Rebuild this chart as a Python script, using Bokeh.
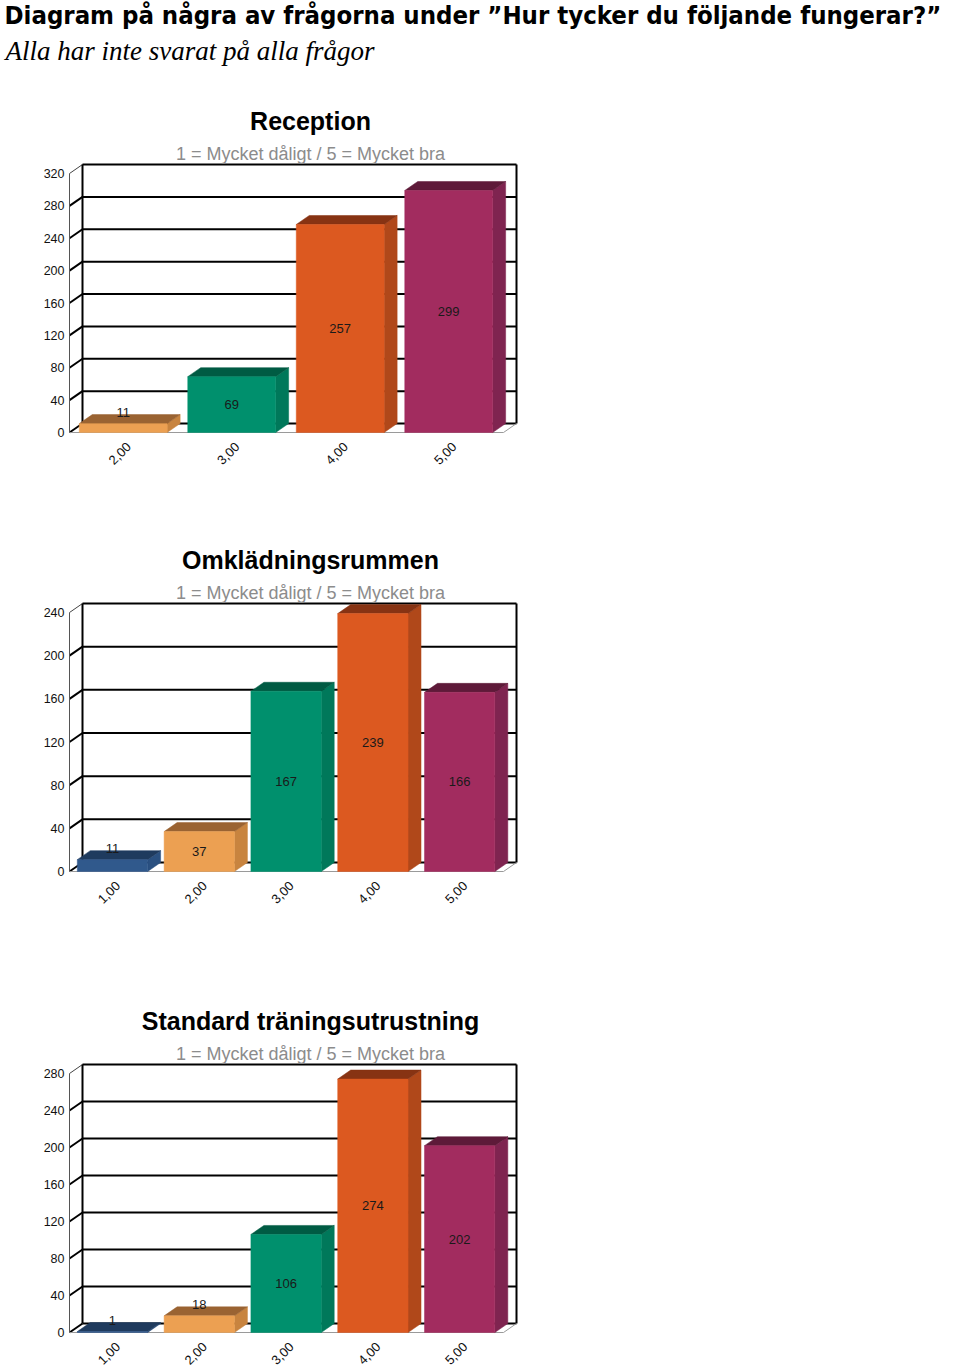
import math
from bokeh.plotting import figure
from bokeh.models import Range1d, FixedTicker, LinearAxis
from bokeh.layouts import column
from bokeh.embed import file_html
from bokeh.resources import INLINE
from bokeh.core.properties import value

# ---------------- data ----------------
main_title = "Diagram på några av frågorna under ”Hur tycker du följande fungerar?”"
main_subtitle = "Alla har inte svarat på alla frågor"
chart_subtitle = "1 = Mycket dåligt / 5 = Mycket bra"

rec_title = "Reception"
rec_grades = [2, 3, 4, 5]
rec_labels = ["2,00", "3,00", "4,00", "5,00"]
rec_values = [11, 69, 257, 299]
rec_tick_max = 320

omk_title = "Omklädningsrummen"
omk_grades = [1, 2, 3, 4, 5]
omk_labels = ["1,00", "2,00", "3,00", "4,00", "5,00"]
omk_values = [11, 37, 167, 239, 166]
omk_tick_max = 240

std_title = "Standard träningsutrustning"
std_grades = [1, 2, 3, 4, 5]
std_labels = ["1,00", "2,00", "3,00", "4,00", "5,00"]
std_values = [1, 18, 106, 274, 202]
std_tick_max = 280

tick_step = 40

# ---------------- styles ----------------
FRONT = {1: "#30598c", 2: "#eca052", 3: "#00906d", 4: "#dc5920", 5: "#a22c5f"}
TOP = {1: "#1f3b5e", 2: "#9a6332", 3: "#005b43", 4: "#873313", 5: "#5e1a39"}
SIDE = {1: "#2a5080", 2: "#c8843f", 3: "#00785a", 4: "#b0481a", 5: "#7f2450"}

SANS = "Liberation Sans"
HEAD_FONT = "DejaVu Sans Condensed, Liberation Sans Narrow, sans-serif"
FRONT_W = 434      # px width of the front floor edge
DX, DY = 13, 9     # px depth offset
WALL_H = 268       # px from front floor to top of back wall
LEFT = 69          # px from figure left to the front axis
FIG_W = 960
BAR_GAP = 0.09
BAR_W = 0.81


def build(title, grades, labels, vals, T, fig_top, floor, fig_bottom, header=False):
    n = len(grades)
    c = FRONT_W / n
    k = (WALL_H - DY) / T
    dxu, dyu = DX / c, DY / k
    top = T + dyu

    def px_x(px):
        return (px - LEFT) / c

    def px_y(py):
        return (floor - py) / k

    H = fig_bottom - fig_top
    p = figure(width=FIG_W, height=H,
               x_range=Range1d(px_x(0), px_x(FIG_W)),
               y_range=Range1d(px_y(fig_bottom), px_y(fig_top)),
               min_border=0, min_border_left=0, min_border_right=0,
               min_border_top=0, min_border_bottom=0,
               output_backend="svg", toolbar_location=None,
               x_axis_location=None, y_axis_location=None)
    p.outline_line_color = None
    p.background_fill_color = "white"
    p.border_fill_color = "white"
    p.xgrid.visible = False
    p.ygrid.visible = False

    ticks = list(range(0, T + 1, tick_step))

    # back wall
    p.quad(left=[dxu], right=[n + dxu], bottom=[dyu], top=[top],
           fill_color="white", line_color=None)
    gl = ticks[:-1]
    p.segment(x0=[0] * len(gl), y0=gl, x1=[dxu] * len(gl), y1=[t + dyu for t in gl],
              line_color="black", line_width=2)
    p.segment(x0=[dxu] * len(gl), y0=[t + dyu for t in gl], x1=[n + dxu] * len(gl),
              y1=[t + dyu for t in gl], line_color="black", line_width=2)
    p.segment(x0=[0], y0=[T], x1=[dxu], y1=[top], line_color="#444444", line_width=1)
    p.segment(x0=[dxu, dxu, n + dxu], y0=[dyu, top, dyu],
              x1=[dxu, n + dxu, n + dxu], y1=[top, top, top],
              line_color="black", line_width=2)
    p.segment(x0=[0, n], y0=[0, 0], x1=[n, n + dxu], y1=[0, dyu],
              line_color="#9a9a9a", line_width=1)

    # bars (front, top, side faces)
    fx, fy, tx, ty, sx, sy = [], [], [], [], [], []
    fc, tc, sc = [], [], []
    for i, (g, v) in enumerate(zip(grades, vals)):
        x0 = i + BAR_GAP
        x1 = x0 + BAR_W
        fx.append([x0, x1, x1, x0]); fy.append([0, 0, v, v])
        tx.append([x0, x1, x1 + dxu, x0 + dxu]); ty.append([v, v, v + dyu, v + dyu])
        sx.append([x1, x1 + dxu, x1 + dxu, x1]); sy.append([0, dyu, v + dyu, v])
        fc.append(FRONT[g]); tc.append(TOP[g]); sc.append(SIDE[g])
    p.patches(xs=sx, ys=sy, fill_color=sc, line_color=sc, line_width=0.5)
    p.patches(xs=tx, ys=ty, fill_color=tc, line_color=tc, line_width=0.5)
    p.patches(xs=fx, ys=fy, fill_color=fc, line_color=fc, line_width=0.5)

    # value labels
    lx = [i + BAR_GAP + BAR_W / 2 for i in range(n)]
    ly = [v / 2 if v * k >= 24 else v + 11.5 / k for v in vals]
    p.text(x=lx, y=ly, text=[str(v) for v in vals], text_align="center",
           text_baseline="middle", text_font=value(SANS), text_font_size="13px",
           text_color="#1a1a1a")

    # y axis at the front-left edge
    yax = LinearAxis(fixed_location=0, ticker=FixedTicker(ticks=ticks), bounds=(0, T))
    yax.major_tick_out = 0
    yax.major_tick_in = 0
    yax.minor_tick_out = 0
    yax.minor_tick_in = 0
    yax.axis_line_color = "#555555"
    yax.axis_line_width = 1
    yax.major_label_standoff = 5
    yax.major_label_text_font = SANS
    yax.major_label_text_font_size = "12.5px"
    yax.major_label_text_color = "#111111"
    p.add_layout(yax, "left")

    # category axis along the front floor edge
    shift = 5 / c
    xt = [i + 0.5 + shift for i in range(n)]
    xax = LinearAxis(fixed_location=0, ticker=FixedTicker(ticks=xt),
                     major_label_overrides={t: lab for t, lab in zip(xt, labels)})
    xax.axis_line_color = None
    xax.major_tick_out = 0
    xax.major_tick_in = 0
    xax.minor_tick_out = 0
    xax.minor_tick_in = 0
    xax.major_label_orientation = math.pi / 4
    xax.major_label_standoff = 12
    xax.major_label_text_font = SANS
    xax.major_label_text_font_size = "13px"
    xax.major_label_text_color = "#111111"
    p.add_layout(xax, "below")

    # chart titles
    cx = px_x(310)
    p.text(x=[cx], y=[top + 44 / k], text=[title], text_align="center",
           text_baseline="middle", text_font=value(SANS),
           text_font_style="bold", text_font_size="25px", text_color="black")
    p.text(x=[cx], y=[top + 11 / k], text=[chart_subtitle], text_align="center",
           text_baseline="middle", text_font=value(SANS),
           text_font_size="18px", text_color="#8c8c8c")
    if header:
        p.text(x=[px_x(4)], y=[px_y(14)], text=[main_title], text_align="left",
               text_baseline="middle", text_font=value(HEAD_FONT),
               text_font_style="bold", text_font_size="25.5px", text_color="black")
        p.text(x=[px_x(5)], y=[px_y(50)], text=[main_subtitle], text_align="left",
               text_baseline="middle", text_font=value("Liberation Serif"),
               text_font_style="italic", text_font_size="27px", text_color="black")
    return p


p1 = build(rec_title, rec_grades, rec_labels, rec_values, rec_tick_max, 0, 432, 490, header=True)
p2 = build(omk_title, omk_grades, omk_labels, omk_values, omk_tick_max, 490, 871, 950)
p3 = build(std_title, std_grades, std_labels, std_values, std_tick_max, 950, 1332, 1367)

layout = column(p1, p2, p3, spacing=0)

open("out.html", "w").write(file_html(layout, INLINE))
